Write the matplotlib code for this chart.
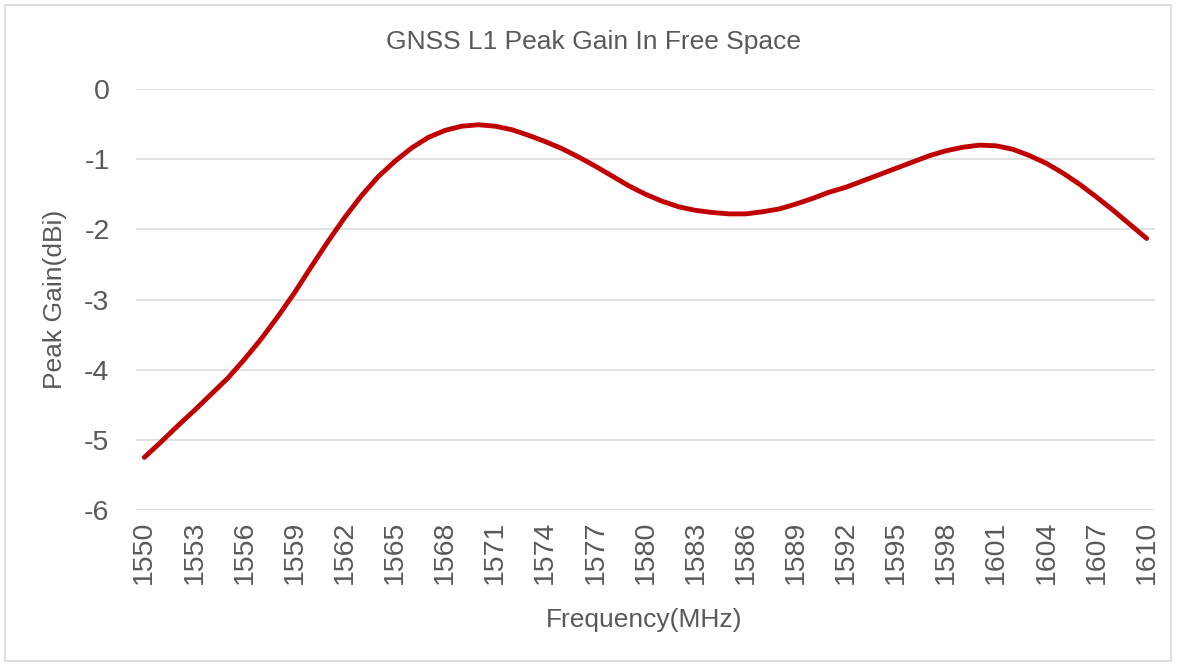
import matplotlib
matplotlib.use("Agg")
import matplotlib.pyplot as plt
from matplotlib.patches import Rectangle

# frequency (MHz) and peak gain (dBi)
freq = list(range(1550, 1611))
gain = [-5.25, -5.03, -4.80, -4.58, -4.35, -4.12, -3.85, -3.56, -3.24, -2.90,
        -2.53, -2.17, -1.83, -1.52, -1.25, -1.03, -0.84, -0.69, -0.59, -0.53,
        -0.51, -0.53, -0.58, -0.66, -0.75, -0.85, -0.97, -1.10, -1.24, -1.38,
        -1.50, -1.60, -1.68, -1.73, -1.76, -1.78, -1.78, -1.75, -1.71, -1.64,
        -1.56, -1.47, -1.40, -1.31, -1.22, -1.13, -1.04, -0.95, -0.88, -0.83,
        -0.80, -0.81, -0.86, -0.95, -1.06, -1.20, -1.36, -1.54, -1.73, -1.93,
        -2.13]
xticks = list(range(1550, 1611, 3))
yticks = [0, -1, -2, -3, -4, -5, -6]

plt.rcParams['font.family'] = ['Liberation Sans', 'DejaVu Sans']
plt.rcParams['axes.unicode_minus'] = False
txt = '#595959'

fig = plt.figure(figsize=(11.78, 6.66), dpi=100)
ax = fig.add_axes([136 / 1178, 1 - 510 / 666, 1019 / 1178, 421 / 666])

# light frame round the whole chart
fig.patches.append(Rectangle((5 / 1178, 5 / 666), 1166 / 1178, 656 / 666,
                             transform=fig.transFigure, fill=False,
                             edgecolor='#D9D9D9', linewidth=1.2))

for y in yticks:
    ax.axhline(y, color='#D9D9D9', linewidth=1.1, zorder=0)

ax.plot(freq, gain, color='#C00000', linewidth=3.5,
        solid_capstyle='round', solid_joinstyle='round', zorder=3)

ax.set_xlim(1549.5, 1610.5)
ax.set_ylim(-6, 0)
ax.set_xticks(xticks)
ax.set_xticklabels([str(v) for v in xticks], rotation=90)
ax.set_yticks(yticks)
ax.tick_params(length=0, labelsize=20.5, labelcolor=txt)
ax.tick_params(axis='x', pad=8)
ax.tick_params(axis='y', pad=19)
for s in ax.spines.values():
    s.set_visible(False)

fig.text(594 / 1178, 1 - 42 / 666, 'GNSS L1 Peak Gain In Free Space',
         ha='center', va='center', fontsize=19, color=txt)
fig.text(644 / 1178, 1 - 620 / 666, 'Frequency(MHz)',
         ha='center', va='center', fontsize=19, color=txt)
fig.text(55 / 1178, 1 - 299 / 666, 'Peak Gain(dBi)', rotation=90,
         ha='center', va='center', fontsize=19, color=txt)

fig.savefig('out.png', dpi=100)
